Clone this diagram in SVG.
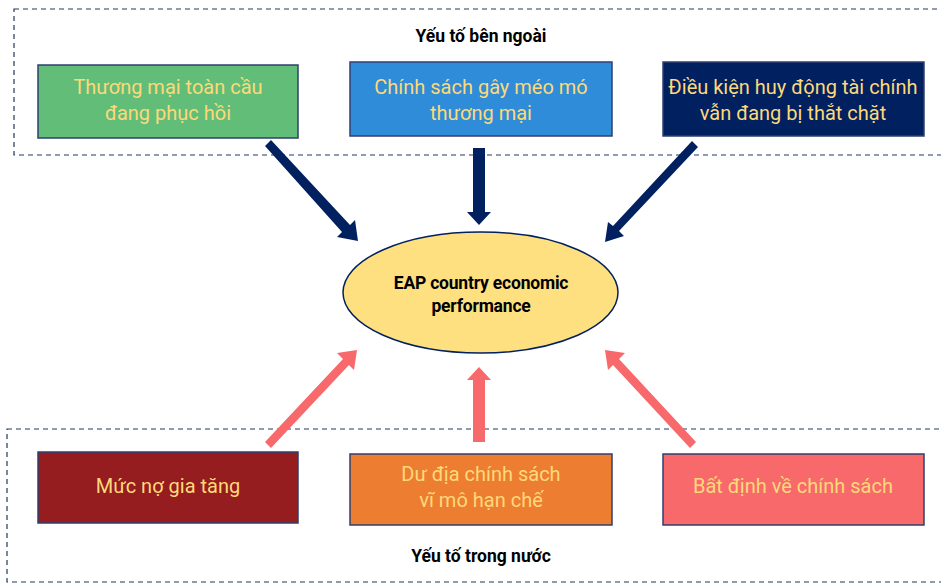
<svg xmlns="http://www.w3.org/2000/svg" width="941" height="583" viewBox="0 0 941 583">
<style>
.frame{fill:none;stroke:#1F3864;stroke-width:1.2;stroke-dasharray:5 4}
.box{stroke:#2F3F6F;stroke-width:1.5}
.bt{font-family:Roboto,"Noto Sans",sans-serif;font-size:20px;fill:#FDD97A;text-anchor:middle}
.title{font-family:Roboto,"Noto Sans",sans-serif;font-size:17.5px;font-weight:bold;fill:#000;text-anchor:middle}
.et{font-family:Roboto,"Noto Sans",sans-serif;font-size:17.5px;font-weight:bold;fill:#000;text-anchor:middle;letter-spacing:-0.2px}
.navy{fill:#002060}
.pink{fill:#F8696B}
</style>
<rect class="frame" x="14" y="9" width="940" height="146"/>
<rect class="frame" x="7" y="429" width="950" height="153"/>
<text class="title" x="481" y="42">Yếu tố bên ngoài</text>
<text class="title" x="481" y="562">Yếu tố trong nước</text>

<g id="n1"><rect class="box" x="38" y="65" width="260" height="73" fill="#62BD78"/>
<text class="bt" x="168" y="94">Thương mại toàn cầu</text><text class="bt" x="168" y="120">đang phục hồi</text></g>
<g id="n2"><rect class="box" x="350" y="62" width="262" height="74" fill="#2F8CD8"/>
<text class="bt" x="481" y="94">Chính sách gây méo mó</text><text class="bt" x="481" y="120">thương mại</text></g>
<g id="n3"><rect class="box" x="663" y="62" width="261" height="74" fill="#002060"/>
<text class="bt" x="793" y="94">Điều kiện huy động tài chính</text><text class="bt" x="793" y="120">vẫn đang bị thắt chặt</text></g>

<g id="n4"><rect class="box" x="38" y="452" width="260" height="71" fill="#951C1F"/>
<text class="bt" x="168" y="493">Mức nợ gia tăng</text></g>
<g id="n5"><rect class="box" x="350" y="454" width="262" height="71" fill="#ED7D31"/>
<text class="bt" x="481" y="481">Dư địa chính sách</text><text class="bt" x="481" y="507">vĩ mô hạn chế</text></g>
<g id="n6"><rect class="box" x="663" y="454" width="261" height="71" fill="#F8696B"/>
<text class="bt" x="793" y="493">Bất định về chính sách</text></g>

<g id="center"><ellipse cx="480.5" cy="292.5" rx="137.5" ry="60.5" fill="#FEE081" stroke="#002060" stroke-width="1.5"/>
<text class="et" x="481" y="289">EAP country economic</text><text class="et" x="481" y="312">performance</text></g>

<g id="connectors">
<polygon class="navy" points="265,146 271,140 350,225 355,220 358,241 337,237 342,232"/>
<polygon class="navy" points="473,148 485,148 485,212 491,212 479,225 467,212 473,212"/>
<polygon class="navy" points="692,141 698,147 619,231 624,236 605,242 608,222 613,226"/>
<polygon class="pink" points="265,442 271,448 349,365 354,370 357,350 337,353 343,359"/>
<polygon class="pink" points="473,442 485,442 485,380 491,380 479,367 467,380 473,380"/>
<polygon class="pink" points="696,442 690,448 613,365 608,370 605,350 625,353 619,359"/>
</g>
</svg>
